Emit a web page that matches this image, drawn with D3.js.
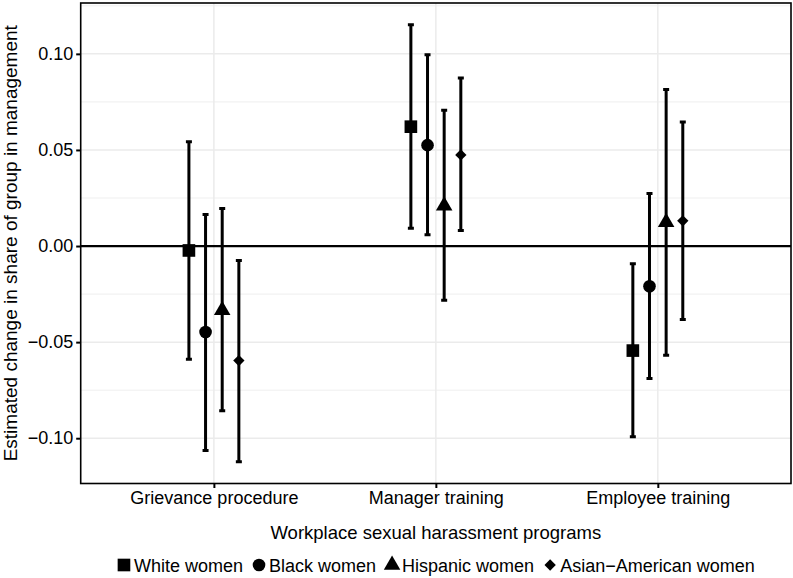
<!DOCTYPE html>
<html>
<head>
<meta charset="utf-8">
<script src="https://cdn.jsdelivr.net/npm/d3@7"></script>
<style>
	body { margin: 0; background: #fff; }
	text { font-family: 'Liberation Sans', Arial, sans-serif; fill: #000; }
</style>
</head>
<body>
<div id="chart"></div>
<script>
const w = 793;
const h = 578;

const categories = ['Grievance procedure', 'Manager training', 'Employee training'];
const groups = ['White women', 'Black women', 'Hispanic women', 'Asian\u2212American women'];

// one row per group, one column per category
const estimates = [
	[-0.0023, 0.0621, -0.0544],
	[-0.0447, 0.0525, -0.0209],
	[-0.0334, 0.021, 0.0124],
	[-0.0596, 0.0474, 0.0131]
];
const lower = [
	[-0.0589, 0.0093, -0.0993],
	[-0.1064, 0.0059, -0.0689],
	[-0.0857, -0.0282, -0.0568],
	[-0.1122, 0.0081, -0.0382]
];
const upper = [
	[0.0543, 0.1151, -0.0092],
	[0.0164, 0.0996, 0.0274],
	[0.0195, 0.0706, 0.0815],
	[-0.0075, 0.0875, 0.0645]
];
const yTicks = [-0.1, -0.05, 0, 0.05, 0.1];
const yMinor = [-0.125, -0.075, -0.025, 0.025, 0.075, 0.125];

const panel = {left: 80.7, right: 791, top: 3, bottom: 483.5};

const rows = [];
groups.forEach((g, gi) => {
	categories.forEach((c, ci) => {
		rows.push({group: g, gi, cat: c, est: estimates[gi][ci], lo: lower[gi][ci], hi: upper[gi][ci]});
	});
});

const svg = d3
	.select('#chart')
	.append('svg')
	.attr('width', w)
	.attr('height', h)
	.style('background-color', '#fff');

const xScale = d3
	.scalePoint()
	.domain(categories)
	.range([panel.left, panel.right])
	.padding(0.6);

const step = xScale.step();
const dodge = d3
	.scalePoint()
	.domain(groups)
	.range([-0.1125 * step, 0.1125 * step]);

// ggplot style 5% expansion
const lo = d3.min(rows, d => d.lo);
const hi = d3.max(rows, d => d.hi);
const pad = (hi - lo) * 0.05;
const yScale = d3
	.scaleLinear()
	.domain([lo - pad, hi + pad])
	.range([panel.bottom, panel.top]);

// grid
const grid = svg.append('g');
grid
	.selectAll('.minor')
	.data(yMinor.filter(v => yScale(v) > panel.top && yScale(v) < panel.bottom))
	.enter()
	.append('line')
	.attr('x1', panel.left)
	.attr('x2', panel.right)
	.attr('y1', d => yScale(d))
	.attr('y2', d => yScale(d))
	.attr('stroke', '#ebebeb')
	.attr('stroke-width', 0.8);

grid
	.selectAll('.major')
	.data(yTicks)
	.enter()
	.append('line')
	.attr('x1', panel.left)
	.attr('x2', panel.right)
	.attr('y1', d => yScale(d))
	.attr('y2', d => yScale(d))
	.attr('stroke', '#ebebeb')
	.attr('stroke-width', 1.5);

grid
	.selectAll('.vmajor')
	.data(categories)
	.enter()
	.append('line')
	.attr('x1', d => xScale(d))
	.attr('x2', d => xScale(d))
	.attr('y1', panel.top)
	.attr('y2', panel.bottom)
	.attr('stroke', '#ebebeb')
	.attr('stroke-width', 1.5);

// zero line
svg
	.append('line')
	.attr('x1', panel.left)
	.attr('x2', panel.right)
	.attr('y1', yScale(0))
	.attr('y2', yScale(0))
	.attr('stroke', '#000')
	.attr('stroke-width', 2.2);

// error bars
const capHalf = 3;
const bars = svg.append('g');
bars
	.selectAll('.bar')
	.data(rows)
	.enter()
	.append('path')
	.attr('d', d => {
		const x = xScale(d.cat) + dodge(d.group);
		const y1 = yScale(d.hi);
		const y2 = yScale(d.lo);
		return `M${x - capHalf},${y1}H${x + capHalf}M${x},${y1}V${y2}M${x - capHalf},${y2}H${x + capHalf}`;
	})
	.attr('fill', 'none')
	.attr('stroke', '#000')
	.attr('stroke-width', 3);

const shapes = [
	{type: d3.symbolSquare, size: 160, rotate: 0},
	{type: d3.symbolCircle, size: 125, rotate: 0},
	{type: d3.symbolTriangle, size: 118, rotate: 0},
	{type: d3.symbolSquare, size: 64, rotate: 45}
];

svg
	.append('g')
	.selectAll('path')
	.data(rows)
	.enter()
	.append('path')
	.attr('d', d => d3.symbol().type(shapes[d.gi].type).size(shapes[d.gi].size)())
	.attr('transform', d =>
		`translate(${xScale(d.cat) + dodge(d.group)},${yScale(d.est)}) rotate(${shapes[d.gi].rotate})`
	)
	.attr('fill', '#000');

// panel border
svg
	.append('rect')
	.attr('x', panel.left)
	.attr('y', panel.top)
	.attr('width', panel.right - panel.left)
	.attr('height', panel.bottom - panel.top)
	.attr('fill', 'none')
	.attr('stroke', '#000')
	.attr('stroke-width', 1.6);

// axes
const yAxis = d3
	.axisLeft(yScale)
	.tickValues(yTicks)
	.tickSize(4.5)
	.tickPadding(3)
	.tickFormat(d => d3.format('.2f')(d).replace('-', '\u2212'));

const gy = svg
	.append('g')
	.attr('transform', `translate(${panel.left}, 0)`)
	.call(yAxis);
gy.select('.domain').remove();
gy.selectAll('line').attr('stroke', '#000').attr('stroke-width', 2);
gy.selectAll('text').style('font-size', '18px').attr('fill', '#000');

const xAxis = d3.axisBottom(xScale).tickSize(4.5).tickPadding(3);
const gx = svg
	.append('g')
	.attr('transform', `translate(0, ${panel.bottom})`)
	.call(xAxis);
gx.select('.domain').remove();
gx.selectAll('line').attr('stroke', '#000').attr('stroke-width', 2);
gx.selectAll('text').style('font-size', '18px').attr('fill', '#000');

const panelMid = (panel.left + panel.right) / 2;

svg
	.append('text')
	.attr('x', panelMid)
	.attr('y', 538.5)
	.style('text-anchor', 'middle')
	.style('font-size', '18.5px')
	.text('Workplace sexual harassment programs');

svg
	.append('text')
	.attr('transform', `translate(17, ${(panel.top + panel.bottom) / 2}) rotate(-90)`)
	.style('text-anchor', 'middle')
	.style('font-size', '19px')
	.text('Estimated change in share of group in management');

// legend
const legend = svg.append('g');
const keyW = 14;
let lx = 0;
groups.forEach((g, gi) => {
	const item = legend.append('g').attr('transform', `translate(${lx}, 0)`);
	item
		.append('path')
		.attr('d', d3.symbol().type(shapes[gi].type).size(shapes[gi].size)())
		.attr('transform', `translate(${keyW / 2}, -6.5) rotate(${shapes[gi].rotate})`)
		.attr('fill', '#000');
	const t = item
		.append('text')
		.attr('x', keyW + 3)
		.attr('y', 0)
		.style('font-size', '18px')
		.text(g);
	lx += keyW + 3 + t.node().getComputedTextLength() + 9;
});
const legendW = lx - 9;
legend.attr('transform', `translate(${panelMid - legendW / 2}, 571.5)`);
</script>
</body>
</html>
